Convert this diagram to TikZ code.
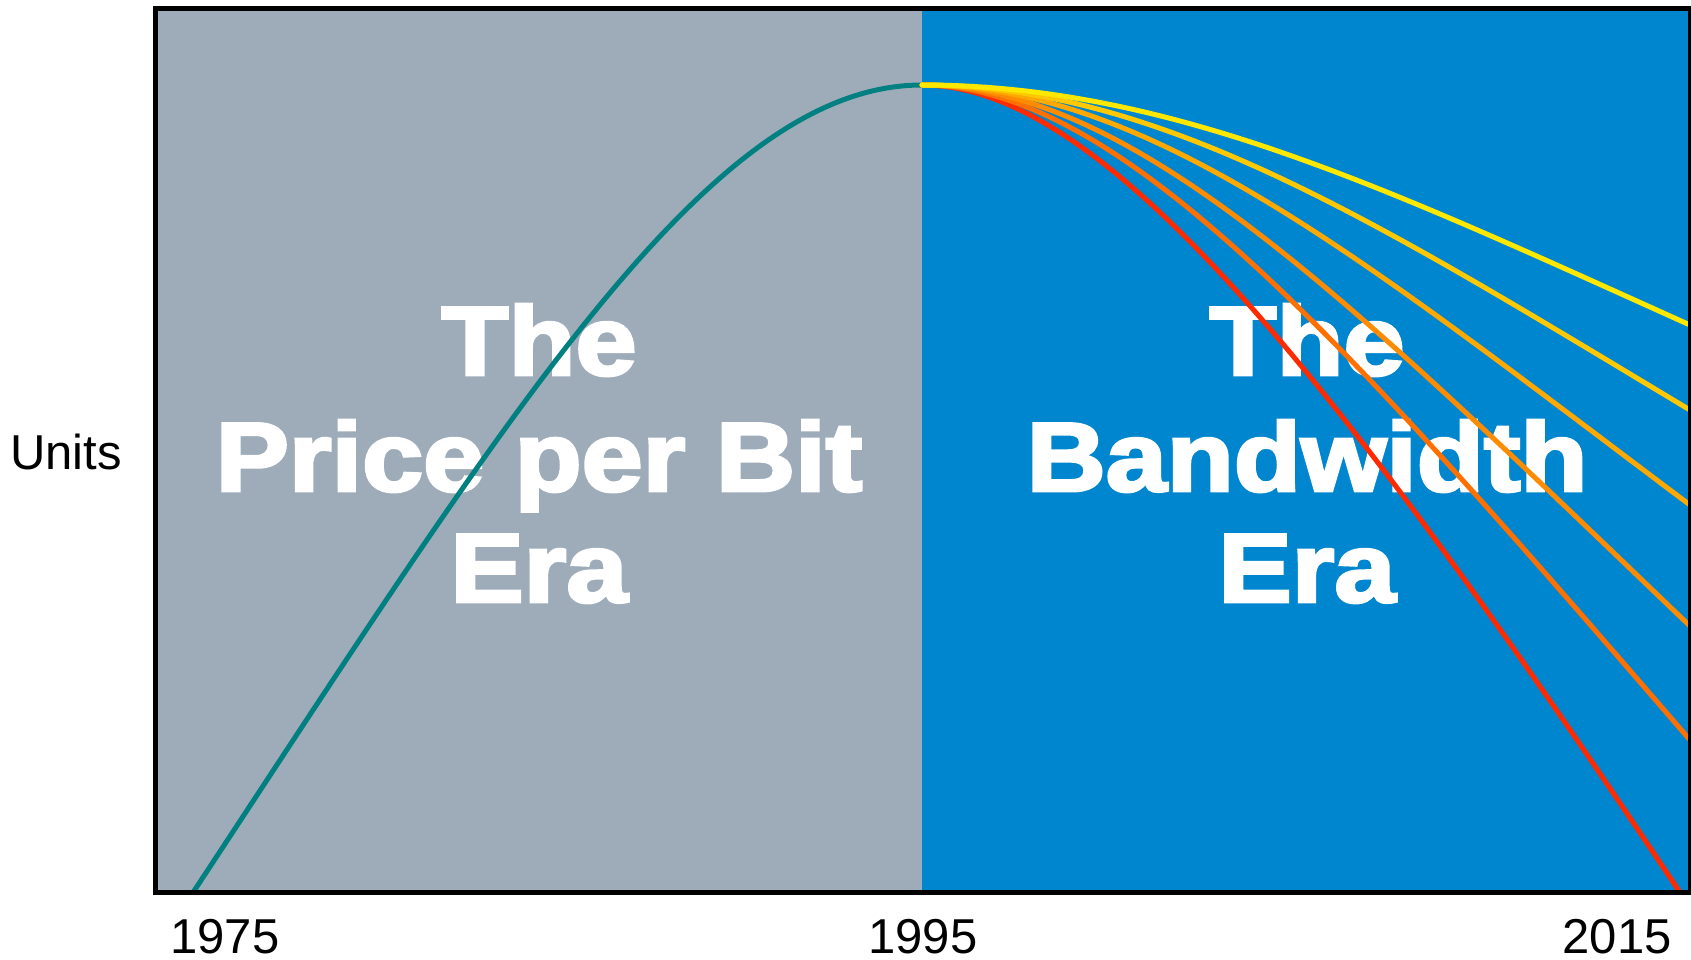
\documentclass[tikz,border=0pt]{standalone}
\usepackage{fontspec}
\setmainfont{Liberation Sans}
\newfontfamily\heavy[FakeBold=3]{Liberation Sans Bold}
\definecolor{eragray}{RGB}{158,172,186}
\definecolor{erablue}{RGB}{0,134,206}
\definecolor{teal}{RGB}{0,128,128}
\definecolor{fanA}{RGB}{255,232,0}
\definecolor{fanB}{RGB}{255,200,0}
\definecolor{fanC}{RGB}{255,168,0}
\definecolor{fanD}{RGB}{255,140,0}
\definecolor{fanE}{RGB}{255,112,0}
\definecolor{fanF}{RGB}{255,42,0}
\begin{document}
\begin{tikzpicture}[x=1pt,y=-1pt,
  bigtext/.style={text=white, font=\heavy\fontsize{98}{114}\selectfont, xscale=1.12, inner sep=0pt, anchor=base},
  lab/.style={text=black, font=\fontsize{49}{58}\selectfont, inner sep=0pt, anchor=base},
  curve/.style={line width=5pt, line cap=round}]
\useasboundingbox (0,0) rectangle (1691,960);
% backgrounds
\fill[eragray] (155,9) rectangle (922,892);
\fill[erablue] (922,9) rectangle (1690,892);
% era texts
\node[bigtext] (lt1) at (539,375) {The};
\node[bigtext] (lt2) at (539,491) {Price per Bit};
\node[bigtext] (lt3) at (539,602) {Era};
\node[bigtext] (rt1) at (1307,375) {The};
\node[bigtext] (rt2) at (1307,491) {Bandwidth};
\node[bigtext] (rt3) at (1307,602) {Era};
% curves
\coordinate (start) at (194,891);
\coordinate (peak) at (922,85);
\draw[curve, teal] (start) .. controls (514,405) and (712,85) .. (peak);
\draw[curve, fanF] (peak) .. controls (1102,85) and (1329,366) .. (1679,891);
\draw[curve, fanE] (peak) .. controls (1122,85) and (1350,346) .. (1690,740);
\draw[curve, fanD] (peak) .. controls (1137,85) and (1360,310) .. (1690,626);
\draw[curve, fanC] (peak) .. controls (1152,85) and (1370,265) .. (1690,505);
\draw[curve, fanB] (peak) .. controls (1162,85) and (1380,224) .. (1690,410);
\draw[curve, fanA] (peak) .. controls (1172,85) and (1390,190) .. (1690,325);
% frame
\draw[line width=5pt] (155,9) rectangle (1690,892);
% labels
\node[lab] (units) at (66,469) {Units};
\node[lab] (y1975) at (225,953) {1975};
\node[lab] (y1995) at (923,953) {1995};
\node[lab] (y2015) at (1617,953) {2015};
\end{tikzpicture}
\end{document}
